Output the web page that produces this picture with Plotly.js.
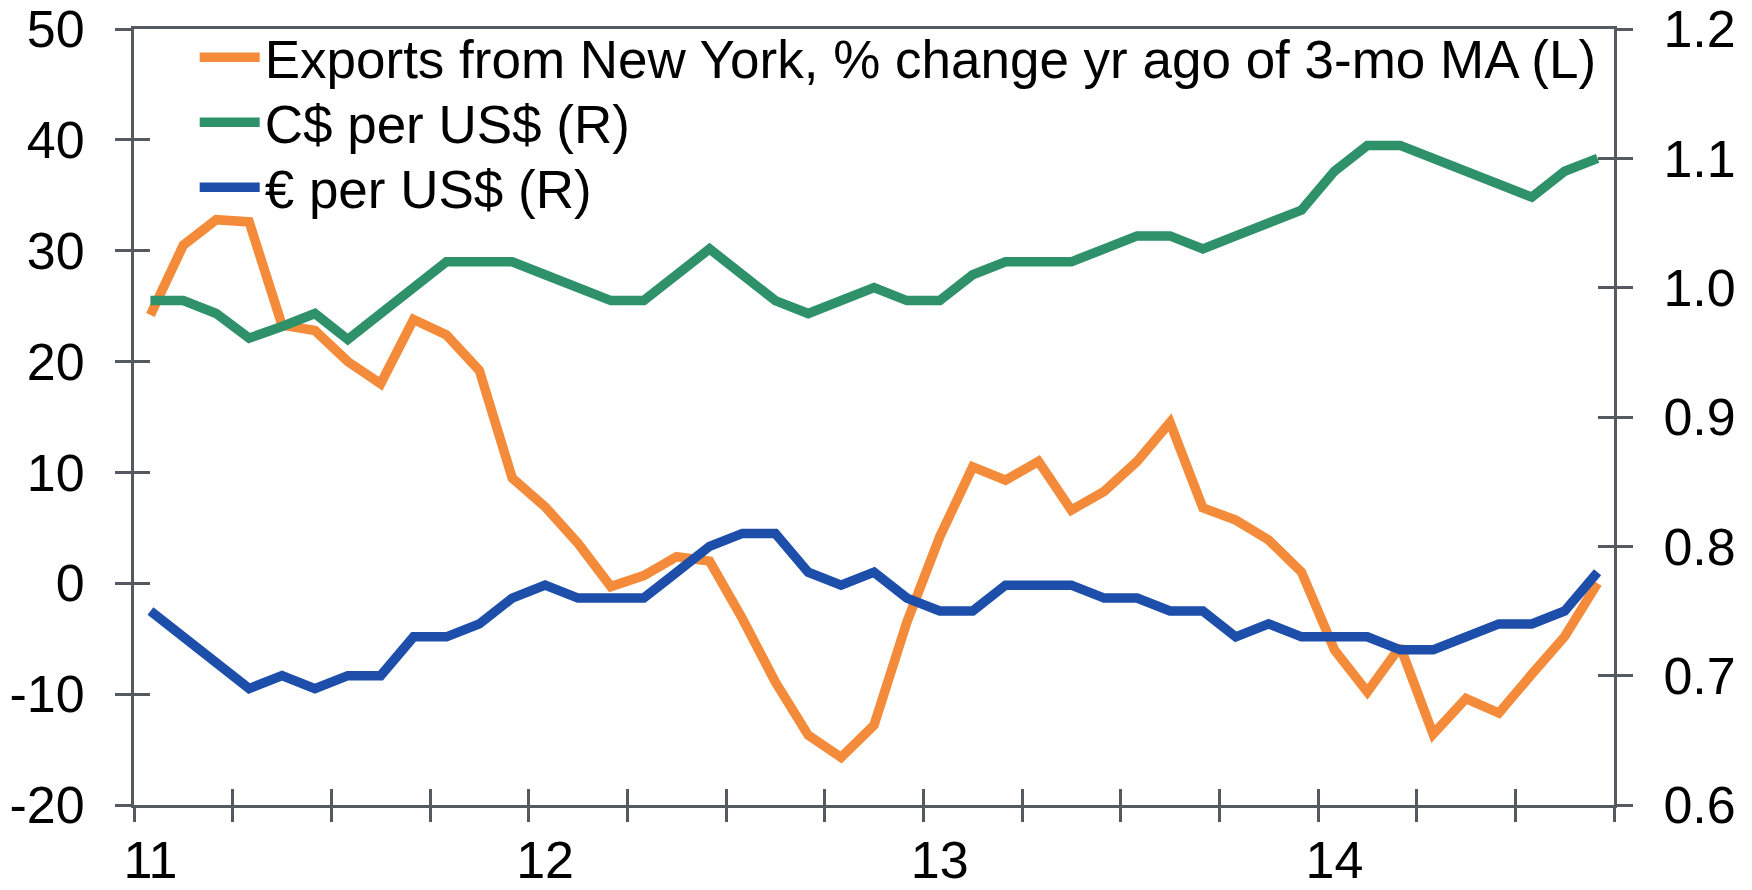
<!DOCTYPE html>
<html>
<head>
<meta charset="utf-8">
<script src="https://cdn.plot.ly/plotly-3.0.1.min.js"></script>
<style>
html, body { margin: 0; padding: 0; background: #ffffff; }
#chart { width: 1752px; height: 890px; }
</style>
</head>
<body>
<div id="chart"></div>
<script>
// ---- data (monthly, Jan 2011 - Sep 2014) ----
const months = [
  '2011-01','2011-02','2011-03','2011-04','2011-05','2011-06','2011-07','2011-08','2011-09','2011-10','2011-11','2011-12',
  '2012-01','2012-02','2012-03','2012-04','2012-05','2012-06','2012-07','2012-08','2012-09','2012-10','2012-11','2012-12',
  '2013-01','2013-02','2013-03','2013-04','2013-05','2013-06','2013-07','2013-08','2013-09','2013-10','2013-11','2013-12',
  '2014-01','2014-02','2014-03','2014-04','2014-05','2014-06','2014-07','2014-08','2014-09'
];
const exportsNY = [
  24.2, 30.5, 32.8, 32.6, 23.3, 22.8, 20.0, 18.0, 23.8, 22.4, 19.2, 9.5,
  6.9, 3.6, -0.3, 0.7, 2.4, 2.0, -3.2, -8.9, -13.7, -15.7, -12.8, -3.5,
  4.2, 10.5, 9.3, 11.0, 6.6, 8.3, 11.0, 14.5, 6.8, 5.7, 3.9, 1.0,
  -6.0, -9.8, -5.7, -13.6, -10.4, -11.7, -8.2, -4.8, 0.0
];
const cadPerUsd = [
  0.990, 0.990, 0.980, 0.961, 0.970, 0.980, 0.960, 0.980, 1.000, 1.020, 1.020, 1.020,
  1.010, 1.000, 0.990, 0.990, 1.010, 1.030, 1.010, 0.990, 0.980, 0.990, 1.000, 0.990,
  0.990, 1.010, 1.020, 1.020, 1.020, 1.030, 1.040, 1.040, 1.030, 1.040, 1.050, 1.060,
  1.090, 1.110, 1.110, 1.100, 1.090, 1.080, 1.070, 1.090, 1.100
];
const eurPerUsd = [
  0.750, 0.730, 0.710, 0.690, 0.700, 0.690, 0.700, 0.700, 0.730, 0.730, 0.740, 0.760,
  0.770, 0.760, 0.760, 0.760, 0.780, 0.800, 0.810, 0.810, 0.780, 0.770, 0.780, 0.760,
  0.750, 0.750, 0.770, 0.770, 0.770, 0.760, 0.760, 0.750, 0.750, 0.730, 0.740, 0.730,
  0.730, 0.730, 0.720, 0.720, 0.730, 0.740, 0.740, 0.750, 0.780
];
const seriesNames = [
  'Exports from New York, % change yr ago of 3-mo MA (L)',
  'C$ per US$ (R)',
  '€ per US$ (R)'
];
const yearLabels = ['11', '12', '13', '14'];
const yearStartMonths = ['2011-01', '2012-01', '2013-01', '2014-01'];
const leftTicks = [-20, -10, 0, 10, 20, 30, 40, 50];
const leftTickText = ['-20', '-10', '0', '10', '20', '30', '40', '50'];
const rightTicks = [0.6, 0.7, 0.8, 0.9, 1.0, 1.1, 1.2];
const rightTickText = ['0.6', '0.7', '0.8', '0.9', '1.0', '1.1', '1.2'];

// ---- derived positions (category index axis) ----
const xIdx = months.map((m, i) => i);
const yearTickVals = yearStartMonths.map(m => months.indexOf(m));
const quarterTickVals = [];
for (let i = 0; i <= months.length; i += 3) quarterTickVals.push(i - 0.5);
const xRange = [-0.5, months.length - 0.5];

const FONT = 'Liberation Sans, Arial, sans-serif';
const AX = '#555a60';
const FS = 52;
const LFS = 53;
const LW = 9.5;

const traces = [
  { x: xIdx, y: exportsNY, name: seriesNames[0], type: 'scatter', mode: 'lines',
    line: { color: '#F38B3A', width: LW }, xaxis: 'x', yaxis: 'y', legend: 'legend' },
  { x: xIdx, y: cadPerUsd, name: seriesNames[1], type: 'scatter', mode: 'lines',
    line: { color: '#2E916A', width: LW }, xaxis: 'x', yaxis: 'y2', legend: 'legend2' },
  { x: xIdx, y: eurPerUsd, name: seriesNames[2], type: 'scatter', mode: 'lines',
    line: { color: '#1D4EAA', width: LW }, xaxis: 'x', yaxis: 'y2', legend: 'legend3' },
  // empty helpers so that the tick-mark overlay axes get drawn
  { x: [], y: [], xaxis: 'x2', yaxis: 'y3', showlegend: false, hoverinfo: 'skip', type: 'scatter' },
  { x: [], y: [], xaxis: 'x3', yaxis: 'y4', showlegend: false, hoverinfo: 'skip', type: 'scatter' }
];

const common = { showgrid: false, zeroline: false, fixedrange: true };

function legendAt(y) {
  return {
    x: 0.041, y: y, xanchor: 'left', yanchor: 'top',
    bgcolor: 'rgba(0,0,0,0)', borderwidth: 0,
    font: { family: FONT, size: LFS, color: '#000000' },
    itemwidth: 60
  };
}

const layout = {
  width: 1752, height: 890, autosize: false,
  paper_bgcolor: '#ffffff', plot_bgcolor: '#ffffff',
  margin: { l: 134, r: 138, t: 29, b: 85, pad: 0 },
  font: { family: FONT, size: FS, color: '#000000' },
  showlegend: true,
  legend: legendAt(1.0164),
  legend2: legendAt(0.9326),
  legend3: legendAt(0.8488),
  xaxis: Object.assign({}, common, {
    range: xRange, tickmode: 'array', tickvals: yearTickVals, ticktext: yearLabels,
    ticks: '', showline: true, mirror: true, linecolor: AX, linewidth: 3,
    tickfont: { family: FONT, size: FS, color: '#000' }, ticklabelstandoff: 8
  }),
  xaxis2: Object.assign({}, common, {
    overlaying: 'x', anchor: 'y', side: 'bottom', range: xRange,
    tickmode: 'array', tickvals: quarterTickVals, showticklabels: false,
    ticks: 'outside', ticklen: 16, tickwidth: 3, tickcolor: AX, showline: false
  }),
  xaxis3: Object.assign({}, common, {
    overlaying: 'x', anchor: 'y', side: 'bottom', range: xRange,
    tickmode: 'array', tickvals: quarterTickVals, showticklabels: false,
    ticks: 'inside', ticklen: 16, tickwidth: 3, tickcolor: AX, showline: false
  }),
  yaxis: Object.assign({}, common, {
    range: [-20, 50], tickmode: 'array', tickvals: leftTicks, ticktext: leftTickText,
    ticks: 'outside', ticklen: 16, tickwidth: 3, tickcolor: AX,
    showline: true, linecolor: AX, linewidth: 3,
    tickfont: { family: FONT, size: FS, color: '#000' }, ticklabelstandoff: 20
  }),
  yaxis2: Object.assign({}, common, {
    overlaying: 'y', side: 'right', anchor: 'x', range: [0.6, 1.2],
    tickmode: 'array', tickvals: rightTicks, ticktext: rightTickText,
    ticks: 'outside', ticklen: 16, tickwidth: 3, tickcolor: AX,
    showline: true, linecolor: AX, linewidth: 3,
    tickfont: { family: FONT, size: FS, color: '#000' }, ticklabelstandoff: 20
  }),
  yaxis3: Object.assign({}, common, {
    overlaying: 'y', side: 'left', anchor: 'x', range: [-20, 50],
    tickmode: 'array', tickvals: leftTicks, showticklabels: false,
    ticks: 'inside', ticklen: 16, tickwidth: 3, tickcolor: AX, showline: false
  }),
  yaxis4: Object.assign({}, common, {
    overlaying: 'y', side: 'right', anchor: 'x', range: [0.6, 1.2],
    tickmode: 'array', tickvals: rightTicks, showticklabels: false,
    ticks: 'inside', ticklen: 16, tickwidth: 3, tickcolor: AX, showline: false
  })
};

Plotly.newPlot('chart', traces, layout, { displayModeBar: false, staticPlot: true });
</script>
</body>
</html>
